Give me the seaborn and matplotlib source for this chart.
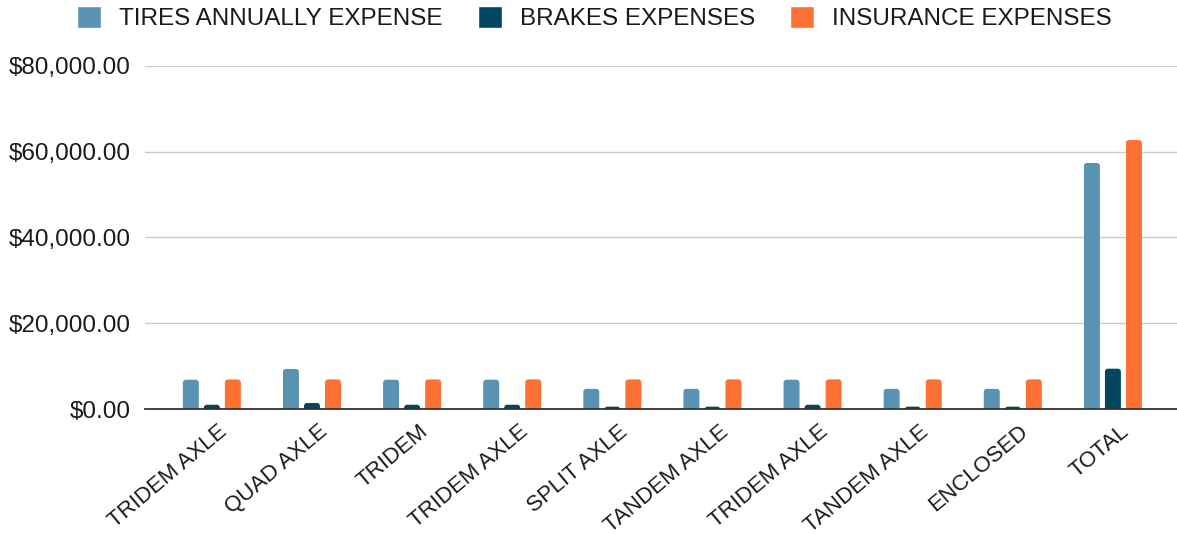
import matplotlib
matplotlib.use("Agg")
import matplotlib.pyplot as plt
import matplotlib.transforms as mtransforms
from matplotlib.patches import FancyBboxPatch, Rectangle
import seaborn as sns
import pandas as pd
from matplotlib.ticker import FuncFormatter

categories = ["TRIDEM AXLE", "QUAD AXLE", "TRIDEM", "TRIDEM AXLE", "SPLIT AXLE",
              "TANDEM AXLE", "TRIDEM AXLE", "TANDEM AXLE", "ENCLOSED", "TOTAL"]
tires = [6830, 9330, 6830, 6830, 4700, 4700, 6830, 4700, 4700, 57350]
brakes = [1000, 1400, 1000, 1000, 550, 550, 1000, 550, 550, 9400]
insurance = [6900, 6900, 6900, 6900, 6900, 6900, 6900, 6900, 6900, 62700]
series_names = ["TIRES ANNUALLY EXPENSE", "BRAKES EXPENSES", "INSURANCE EXPENSES"]
colors = ["#5A93B1", "#02475F", "#FF7133"]

rows = []
for i in range(len(categories)):
    for name, vals in zip(series_names, [tires, brakes, insurance]):
        rows.append({"pos": i, "series": name, "value": vals[i]})
df = pd.DataFrame(rows)

sns.set_theme(style="white")
plt.rcParams["font.family"] = ["Liberation Sans", "DejaVu Sans"]

fig = plt.figure(figsize=(11.77, 5.35), dpi=100)
ax = fig.add_axes([0.123, 0.2355, 0.877, 0.6415])

sns.barplot(data=df, x="pos", y="value", hue="series", hue_order=series_names,
            palette=colors, width=0.63, gap=0.24, ax=ax, errorbar=None,
            saturation=1, legend=True)

ax.set_ylim(0, 80000)
ax.set_xlim(-0.67, 9.64)
ax.set_yticks([0, 20000, 40000, 60000, 80000])
ax.yaxis.set_major_formatter(FuncFormatter(lambda v, p: f"${v:,.2f}"))
ax.yaxis.grid(True, color="#cccccc", linewidth=1)
ax.set_axisbelow(True)
for s in ["top", "right", "left"]:
    ax.spines[s].set_visible(False)
ax.spines["bottom"].set_color("#333333")
ax.spines["bottom"].set_linewidth(1.3)
ax.spines["bottom"].set_zorder(5)
ax.tick_params(axis="y", length=0, pad=10, labelsize=17.5, labelcolor="#1a1a1a")
ax.tick_params(axis="x", length=0, pad=0, labelsize=16, labelcolor="#1a1a1a")
ax.set_xticks(range(len(categories)))
ax.set_xticklabels(categories, rotation=40, ha="right", va="center",
                   rotation_mode="anchor")
offset = mtransforms.ScaledTranslation(13 / 100, -20 / 100, fig.dpi_scale_trans)
for lab in ax.get_xticklabels():
    lab.set_transform(lab.get_transform() + offset)
ax.set_xlabel("")
ax.set_ylabel("")

# rounded tops on the bars seaborn drew
p0 = ax.transData.transform((0, 0))
px_x = ax.transData.transform((1, 0))[0] - p0[0]
px_y = ax.transData.transform((0, 1))[1] - p0[1]
aspect = px_x / px_y
r_px = 3.0
r = r_px / px_x
for patch in list(ax.patches):
    if not isinstance(patch, Rectangle):
        continue
    x, y = patch.get_x(), patch.get_y()
    w, h = patch.get_width(), patch.get_height()
    if h <= 0:
        continue
    ext = r_px * 1.5 / px_y
    fb = FancyBboxPatch((x, y - ext), w, h + ext,
                        boxstyle=f"round,pad=0,rounding_size={r}",
                        mutation_aspect=aspect,
                        facecolor=patch.get_facecolor(), edgecolor="none",
                        linewidth=0, zorder=patch.get_zorder())
    fb.set_clip_path(ax.patch)
    patch.set_visible(False)
    ax.add_patch(fb)

handles, labels = ax.get_legend_handles_labels()
ax.get_legend().remove()
fig.legend(handles, labels, loc="upper center", bbox_to_anchor=(0.505, 1.03), ncol=3,
           frameon=False, fontsize=17.5, handlelength=1.0, handleheight=1.0,
           columnspacing=1.45, handletextpad=0.72, labelcolor="#1a1a1a")

fig.savefig("out.png", dpi=100)
